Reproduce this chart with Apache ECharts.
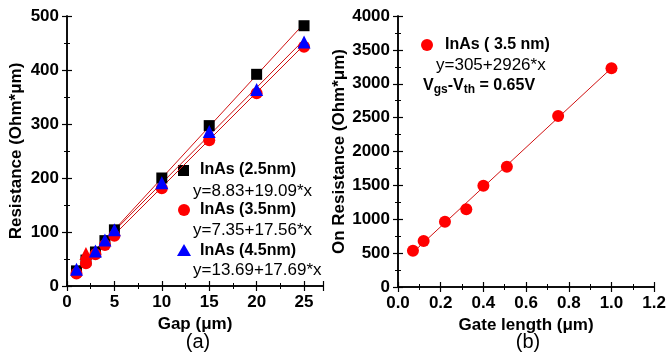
<!DOCTYPE html>
<html><head><meta charset="utf-8">
<script src="https://cdn.jsdelivr.net/npm/echarts@6/dist/echarts.min.js"></script>
<style>html,body{margin:0;padding:0;background:#fff}#c{width:669px;height:356px}</style>
</head><body><div id="c"></div>
<script>
// Panel (a): Resistance vs Gap
const gapX = [1, 2, 3, 4, 5, 10, 15, 20, 25];
const res25 = [28, 48, 63, 84, 104, 200, 297, 392, 482];
const res35 = [23, 42, 59, 76, 93, 181, 270, 357, 443];
const res45 = [31, 60, 65, 85, 104, 191, 286, 364, 452];
const res45RedIdx = [1];
const fit25 = [8.83, 19.09];
const fit35 = [7.35, 17.56];
const fit45 = [13.69, 17.69];
const fitRangeA = [1, 25];
// Panel (b): On resistance vs Gate length
const gateL = [0.07, 0.12, 0.22, 0.32, 0.40, 0.51, 0.75, 1.0];
const onRes = [536, 679, 964, 1147, 1495, 1776, 2524, 3228];
const fitB = [305, 2926];
const fitRangeB = [0.07, 1.0];

const FONT = '"Liberation Sans", Arial, sans-serif';
const chart = echarts.init(document.getElementById('c'), null, {renderer: 'canvas'});

function fitLine(c, r) { return r.map(x => [x, c[0] + c[1] * x]); }
function axisCommon(showLabel, fmt) {
  return {
    axisLine: {show: true, lineStyle: {color: '#000', width: 1.5}},
    axisTick: {show: true, inside: true, length: 5, lineStyle: {color: '#000', width: 1.2}},
    minorTick: {show: true, splitNumber: 2, length: 3, lineStyle: {color: '#000', width: 1}},
    splitLine: {show: false},
    axisLabel: {show: showLabel, color: '#000', fontWeight: 'bold', fontSize: 17, fontFamily: FONT, formatter: fmt || (v => String(v)), showMaxLabel: true},
  };
}
const nameStyle = {color: '#000', fontWeight: 'bold', fontSize: 17, fontFamily: FONT};
const symOpacity = {opacity: 1};

const xa0 = Object.assign(axisCommon(true), {gridIndex: 0, type: 'value', min: 0, max: 27, interval: 5, position: 'bottom',
      name: 'Gap (\u03bcm)', nameLocation: 'middle', nameGap: 21, nameTextStyle: nameStyle});
xa0.axisLabel.showMaxLabel = false;

const option = {
  animation: false,
  grid: [
    {left: 67, top: 16, width: 256, height: 270},
    {left: 398, top: 16, width: 257, height: 271}
  ],
  xAxis: [
    xa0,
    Object.assign(axisCommon(false), {gridIndex: 0, type: 'value', min: 0, max: 27, interval: 5, position: 'top'}),
    Object.assign(axisCommon(true, v => v.toFixed(1)), {gridIndex: 1, type: 'value', min: 0, max: 1.2, interval: 0.2, position: 'bottom',
      name: 'Gate length (\u03bcm)', nameLocation: 'middle', nameGap: 21, nameTextStyle: nameStyle}),
    Object.assign(axisCommon(false), {gridIndex: 1, type: 'value', min: 0, max: 1.2, interval: 0.2, position: 'top'})
  ],
  yAxis: [
    Object.assign(axisCommon(true), {gridIndex: 0, type: 'value', min: 0, max: 500, interval: 100, position: 'left',
      name: 'Resistance (Ohm*\u03bcm)', nameLocation: 'middle', nameGap: 42, nameTextStyle: nameStyle}),
    Object.assign(axisCommon(false), {gridIndex: 0, type: 'value', min: 0, max: 500, interval: 100, position: 'right'}),
    Object.assign(axisCommon(true), {gridIndex: 1, type: 'value', min: 0, max: 4000, interval: 500, position: 'left',
      name: 'On Resistance (Ohm*\u03bcm)', nameLocation: 'middle', nameGap: 48, nameTextStyle: nameStyle}),
    Object.assign(axisCommon(false), {gridIndex: 1, type: 'value', min: 0, max: 4000, interval: 500, position: 'right'})
  ],
  series: [
    {type: 'line', xAxisIndex: 0, yAxisIndex: 0, data: fitLine(fit25, fitRangeA), showSymbol: false, lineStyle: {color: '#d01010', width: 1}, z: 1},
    {type: 'line', xAxisIndex: 0, yAxisIndex: 0, data: fitLine(fit35, fitRangeA), showSymbol: false, lineStyle: {color: '#d01010', width: 1}, z: 1},
    {type: 'line', xAxisIndex: 0, yAxisIndex: 0, data: fitLine(fit45, fitRangeA), showSymbol: false, lineStyle: {color: '#d01010', width: 1}, z: 1},
    {type: 'scatter', xAxisIndex: 0, yAxisIndex: 0, data: gapX.map((x, i) => [x, res25[i]]), symbol: 'rect', symbolSize: 11, itemStyle: {color: '#000', opacity: 1}, z: 3},
    {type: 'scatter', xAxisIndex: 0, yAxisIndex: 0, data: gapX.map((x, i) => [x, res35[i]]), symbol: 'circle', symbolSize: 12, itemStyle: {color: '#ff0000', opacity: 1}, z: 4},
    {type: 'scatter', xAxisIndex: 0, yAxisIndex: 0, data: gapX.map((x, i) => res45RedIdx.includes(i) ? {value: [x, res45[i]], itemStyle: {color: '#ff0000', opacity: 1}} : [x, res45[i]]), symbol: 'triangle', symbolSize: 13, itemStyle: {color: '#0000ff', opacity: 1}, z: 5},
    {type: 'line', xAxisIndex: 2, yAxisIndex: 2, data: fitLine(fitB, fitRangeB), showSymbol: false, lineStyle: {color: '#d01010', width: 1}, z: 1},
    {type: 'scatter', xAxisIndex: 2, yAxisIndex: 2, data: gateL.map((x, i) => [x, onRes[i]]), symbol: 'circle', symbolSize: 12, itemStyle: {color: '#ff0000', opacity: 1}, z: 4}
  ],
  graphic: [
    {type: 'rect', shape: {x: 178, y: 165, width: 11, height: 11}, style: {fill: '#000'}},
    {type: 'text', x: 200, y: 170, style: {text: 'InAs (2.5nm)', font: 'bold 16px ' + FONT, fill: '#000', verticalAlign: 'middle'}},
    {type: 'text', x: 193, y: 191, style: {text: 'y=8.83+19.09*x', font: '17px ' + FONT, fill: '#000', verticalAlign: 'middle'}},
    {type: 'circle', shape: {cx: 184, cy: 210, r: 6}, style: {fill: '#ff0000'}},
    {type: 'text', x: 200, y: 210, style: {text: 'InAs (3.5nm)', font: 'bold 16px ' + FONT, fill: '#000', verticalAlign: 'middle'}},
    {type: 'text', x: 193, y: 230, style: {text: 'y=7.35+17.56*x', font: '17px ' + FONT, fill: '#000', verticalAlign: 'middle'}},
    {type: 'polygon', shape: {points: [[184, 244], [191, 256], [177, 256]]}, style: {fill: '#0000ff'}},
    {type: 'text', x: 200, y: 251, style: {text: 'InAs (4.5nm)', font: 'bold 16px ' + FONT, fill: '#000', verticalAlign: 'middle'}},
    {type: 'text', x: 193, y: 270, style: {text: 'y=13.69+17.69*x', font: '17px ' + FONT, fill: '#000', verticalAlign: 'middle'}},
    {type: 'circle', shape: {cx: 427, cy: 45, r: 6}, style: {fill: '#ff0000'}},
    {type: 'text', x: 445, y: 45, style: {text: 'InAs ( 3.5 nm)', font: 'bold 16px ' + FONT, fill: '#000', verticalAlign: 'middle'}},
    {type: 'text', x: 436, y: 65, style: {text: 'y=305+2926*x', font: '17px ' + FONT, fill: '#000', verticalAlign: 'middle'}},
    {type: 'text', x: 423, y: 86, style: {
      text: '{b|V}{s|gs}{b|-V}{s|th}{b| = 0.65V}', verticalAlign: 'middle',
      rich: {
        b: {font: 'bold 16px ' + FONT, fill: '#000', verticalAlign: 'middle'},
        s: {font: 'bold 12px ' + FONT, fill: '#000', verticalAlign: 'bottom', padding: [8, 0, 0, 0]}
      }}},
    {type: 'text', x: 198, y: 342, style: {text: '(a)', font: '20px ' + FONT, fill: '#000', align: 'center', verticalAlign: 'middle'}},
    {type: 'text', x: 528, y: 342, style: {text: '(b)', font: '20px ' + FONT, fill: '#000', align: 'center', verticalAlign: 'middle'}}
  ]
};
chart.setOption(option);
</script></body></html>
